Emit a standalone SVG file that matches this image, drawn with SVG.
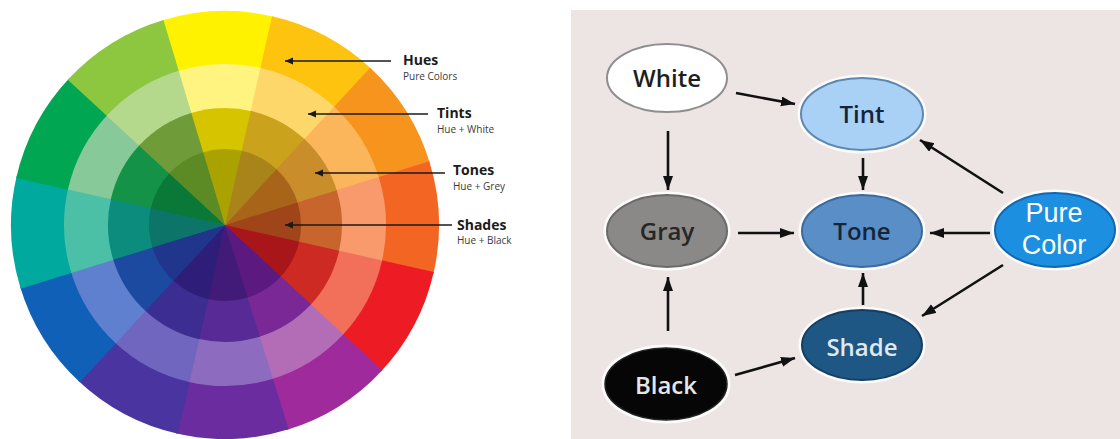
<svg xmlns="http://www.w3.org/2000/svg" xmlns:xlink="http://www.w3.org/1999/xlink" width="1120" height="439" viewBox="0 0 1120 439">
<style>
.lbl{font-family:"Open Sans","Liberation Sans",sans-serif;font-weight:700;font-size:14px;fill:#1c1c1c}
.sub{font-family:"Open Sans","Liberation Sans",sans-serif;font-size:10px;fill:#3a3a3a}
.la{stroke:#1a1a1a;stroke-width:1.6;fill:none;marker-end:url(#lam)}
.ga{stroke:#111;stroke-width:2.6;fill:none;marker-end:url(#gam)}
.halo{fill:none;stroke:#ffffff;stroke-width:7;stroke-opacity:0.85}
.nt{font-family:"Open Sans","Liberation Sans",sans-serif;font-size:24px;font-weight:600;text-anchor:middle}
.pt{font-family:"Liberation Sans",Arial,sans-serif;font-size:27px;text-anchor:middle;fill:#ffffff}
</style>
<defs>
<path id="w" d="M0 0 L-0.2974 -0.9548 A1 1 0 0 1 0.2300 -0.9732 Z"/>
<marker id="lam" markerUnits="userSpaceOnUse" markerWidth="9" markerHeight="8" refX="8" refY="3.5" orient="auto"><path d="M0 0 L8 3.5 L0 7 Z" fill="#1a1a1a"/></marker>
<marker id="gam" markerUnits="userSpaceOnUse" markerWidth="15" markerHeight="11" refX="14" refY="5" orient="auto"><path d="M0 0 L14 5 L0 10 Z" fill="#111"/></marker>
</defs>
<rect x="0" y="0" width="1120" height="439" fill="#ffffff"/>

<g id="color-wheel" transform="translate(225 225)">
<g id="ring-hues">
<use xlink:href="#w" transform="rotate(0) scale(214)" fill="#fff200"/>
<use xlink:href="#w" transform="rotate(30) scale(214)" fill="#fdc30f"/>
<use xlink:href="#w" transform="rotate(60) scale(214)" fill="#f7941d"/>
<use xlink:href="#w" transform="rotate(90) scale(214)" fill="#f26522"/>
<use xlink:href="#w" transform="rotate(120) scale(214)" fill="#ed1c24"/>
<use xlink:href="#w" transform="rotate(150) scale(214)" fill="#9e2a9c"/>
<use xlink:href="#w" transform="rotate(180) scale(214)" fill="#6a2c9e"/>
<use xlink:href="#w" transform="rotate(210) scale(214)" fill="#4a34a0"/>
<use xlink:href="#w" transform="rotate(240) scale(214)" fill="#1060b8"/>
<use xlink:href="#w" transform="rotate(270) scale(214)" fill="#00a99d"/>
<use xlink:href="#w" transform="rotate(300) scale(214)" fill="#00a651"/>
<use xlink:href="#w" transform="rotate(330) scale(214)" fill="#8dc63f"/>
</g>
<g id="ring-tints">
<use xlink:href="#w" transform="rotate(0) scale(161)" fill="#fff47f"/>
<use xlink:href="#w" transform="rotate(30) scale(161)" fill="#fed76a"/>
<use xlink:href="#w" transform="rotate(60) scale(161)" fill="#fbb55a"/>
<use xlink:href="#w" transform="rotate(90) scale(161)" fill="#f89a6c"/>
<use xlink:href="#w" transform="rotate(120) scale(161)" fill="#f2705a"/>
<use xlink:href="#w" transform="rotate(150) scale(161)" fill="#b36cb6"/>
<use xlink:href="#w" transform="rotate(180) scale(161)" fill="#8d6cbf"/>
<use xlink:href="#w" transform="rotate(210) scale(161)" fill="#7066c0"/>
<use xlink:href="#w" transform="rotate(240) scale(161)" fill="#5f7fcf"/>
<use xlink:href="#w" transform="rotate(270) scale(161)" fill="#4cc0a6"/>
<use xlink:href="#w" transform="rotate(300) scale(161)" fill="#88c99a"/>
<use xlink:href="#w" transform="rotate(330) scale(161)" fill="#b5d98c"/>
</g>
<g id="ring-tones">
<use xlink:href="#w" transform="rotate(0) scale(117)" fill="#d7c400"/>
<use xlink:href="#w" transform="rotate(30) scale(117)" fill="#caa21c"/>
<use xlink:href="#w" transform="rotate(60) scale(117)" fill="#c98d2c"/>
<use xlink:href="#w" transform="rotate(90) scale(117)" fill="#c8652c"/>
<use xlink:href="#w" transform="rotate(120) scale(117)" fill="#cc2a22"/>
<use xlink:href="#w" transform="rotate(150) scale(117)" fill="#7a2896"/>
<use xlink:href="#w" transform="rotate(180) scale(117)" fill="#572a95"/>
<use xlink:href="#w" transform="rotate(210) scale(117)" fill="#3c2d92"/>
<use xlink:href="#w" transform="rotate(240) scale(117)" fill="#1c4aa0"/>
<use xlink:href="#w" transform="rotate(270) scale(117)" fill="#0b8c7d"/>
<use xlink:href="#w" transform="rotate(300) scale(117)" fill="#139248"/>
<use xlink:href="#w" transform="rotate(330) scale(117)" fill="#6f9c38"/>
</g>
<g id="ring-shades">
<use xlink:href="#w" transform="rotate(0) scale(76)" fill="#aaa200"/>
<use xlink:href="#w" transform="rotate(30) scale(76)" fill="#a8841a"/>
<use xlink:href="#w" transform="rotate(60) scale(76)" fill="#a86418"/>
<use xlink:href="#w" transform="rotate(90) scale(76)" fill="#a0441a"/>
<use xlink:href="#w" transform="rotate(120) scale(76)" fill="#a8161a"/>
<use xlink:href="#w" transform="rotate(150) scale(76)" fill="#5c1a80"/>
<use xlink:href="#w" transform="rotate(180) scale(76)" fill="#421a78"/>
<use xlink:href="#w" transform="rotate(210) scale(76)" fill="#2e1e7a"/>
<use xlink:href="#w" transform="rotate(240) scale(76)" fill="#1f368c"/>
<use xlink:href="#w" transform="rotate(270) scale(76)" fill="#0c7468"/>
<use xlink:href="#w" transform="rotate(300) scale(76)" fill="#0a7836"/>
<use xlink:href="#w" transform="rotate(330) scale(76)" fill="#5c8a24"/>
</g>
</g>

<g id="wheel-labels">
<line class="la" x1="391" y1="61" x2="285" y2="61"/>
<text class="lbl" x="403" y="65">Hues</text>
<text class="sub" x="403" y="80">Pure Colors</text>
<line class="la" x1="428" y1="114" x2="308" y2="114"/>
<text class="lbl" x="437" y="118">Tints</text>
<text class="sub" x="437" y="133">Hue + White</text>
<line class="la" x1="445" y1="173" x2="315" y2="173"/>
<text class="lbl" x="453" y="175">Tones</text>
<text class="sub" x="453" y="190">Hue + Grey</text>
<line class="la" x1="452" y1="225" x2="285" y2="225"/>
<text class="lbl" x="457" y="230">Shades</text>
<text class="sub" x="457" y="244">Hue + Black</text>
</g>

<rect id="graph-panel" x="571" y="10" width="549" height="429" fill="#ece5e4"/>

<g id="connectors">
<line class="ga" x1="736" y1="93" x2="795" y2="104"/>
<line class="ga" x1="668" y1="131" x2="668" y2="190"/>
<line class="ga" x1="863" y1="158" x2="863" y2="190"/>
<line class="ga" x1="738" y1="233" x2="794" y2="233"/>
<line class="ga" x1="990" y1="233" x2="930" y2="233"/>
<line class="ga" x1="1003" y1="193" x2="920" y2="140"/>
<line class="ga" x1="1003" y1="265" x2="922" y2="316"/>
<line class="ga" x1="863" y1="305" x2="863" y2="273"/>
<line class="ga" x1="668" y1="331" x2="668" y2="277"/>
<line class="ga" x1="735" y1="375" x2="795" y2="358"/>
</g>

<g id="node-white">
<ellipse cx="667" cy="78" rx="60" ry="34" fill="#ffffff" stroke="#8e8e8e" stroke-width="2"/>
<text class="nt" x="667" y="87" fill="#1e1e1e">White</text>
</g>
<g id="node-tint">
<ellipse class="halo" cx="862" cy="114" rx="61" ry="36"/>
<ellipse cx="862" cy="114" rx="61" ry="36" fill="#a9d1f6" stroke="#5f87b0" stroke-width="2"/>
<text class="nt" x="862" y="123" fill="#15243a">Tint</text>
</g>
<g id="node-gray">
<ellipse class="halo" cx="667" cy="231" rx="60" ry="36"/>
<ellipse cx="667" cy="231" rx="60" ry="36" fill="#8a8988" stroke="#6c6b6a" stroke-width="2"/>
<text class="nt" x="667" y="240" fill="#262626">Gray</text>
</g>
<g id="node-tone">
<ellipse class="halo" cx="862" cy="231" rx="60" ry="36"/>
<ellipse cx="862" cy="231" rx="60" ry="36" fill="#5a8ec6" stroke="#3c6a9c" stroke-width="2"/>
<text class="nt" x="862" y="240" fill="#14253a">Tone</text>
</g>
<g id="node-pure-color">
<ellipse class="halo" cx="1055" cy="230" rx="60" ry="37"/>
<ellipse cx="1055" cy="230" rx="60" ry="37" fill="#1c8fe0" stroke="#1565b0" stroke-width="2"/>
<text class="pt" x="1054" y="222">Pure</text>
<text class="pt" x="1054" y="254">Color</text>
</g>
<g id="node-shade">
<ellipse class="halo" cx="862" cy="345" rx="60" ry="35"/>
<ellipse cx="862" cy="345" rx="60" ry="35" fill="#1e5684" stroke="#143e63" stroke-width="2"/>
<text class="nt" x="862" y="356" fill="#dfe9f3">Shade</text>
</g>
<g id="node-black">
<ellipse class="halo" cx="666" cy="384" rx="61" ry="36"/>
<ellipse cx="666" cy="384" rx="61" ry="36" fill="#060606" stroke="#222" stroke-width="1.5"/>
<text class="nt" x="666" y="394" fill="#e6e6e6">Black</text>
</g>
</svg>
